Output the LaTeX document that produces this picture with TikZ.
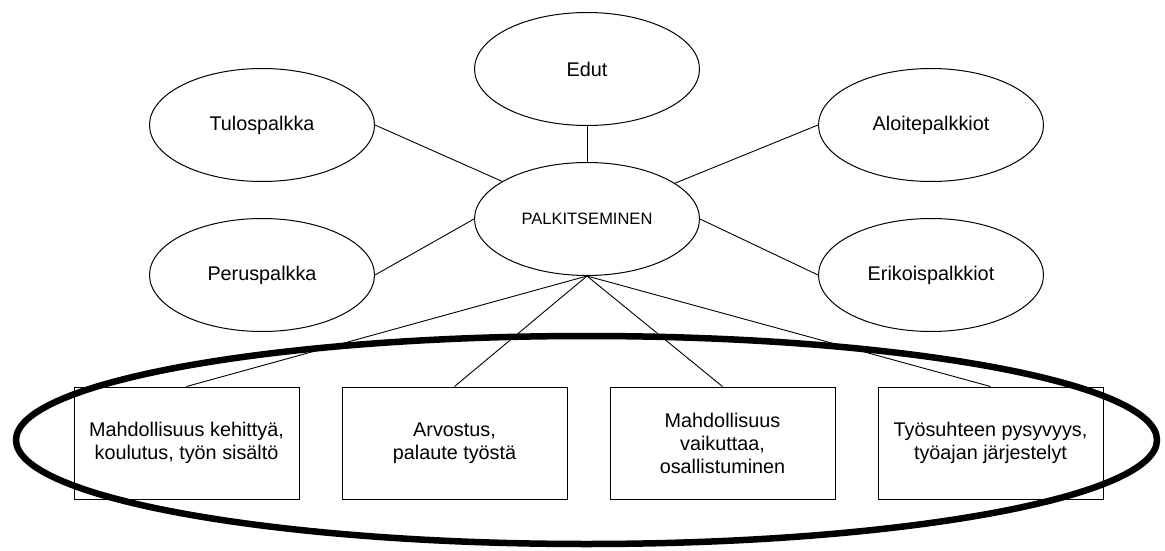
\documentclass[tikz,border=0pt]{standalone}
\usepackage{fontspec}
\setmainfont{Liberation Sans}
\usepackage{tikz}
\usetikzlibrary{positioning, shapes.geometric}

\tikzset{
  oval/.style={draw, ellipse, line width=1pt, minimum width=225pt, minimum height=113pt,
               inner sep=0pt, font=\fontsize{19.8}{23}\selectfont},
  mainoval/.style={oval, font=\fontsize{16.5}{20}\selectfont},
  rewardbox/.style={draw, fill=white, line width=1pt, minimum width=225pt, minimum height=112pt,
                    inner sep=0pt, align=center, font=\fontsize{19.8}{23}\selectfont},
  link/.style={line width=0.9pt}
}

\begin{document}
\begin{tikzpicture}[x=1pt, y=-1pt]
    \useasboundingbox (0,0) rectangle (1165,551);

    % ovals round the centre
    \node[mainoval] (palk) at (587,219) {PALKITSEMINEN};
    \node[oval] (edut) at (587,69) {Edut};
    \node[oval] (tulos) at (262,125) {Tulospalkka};
    \node[oval] (perus) at (262,275) {Peruspalkka};
    \node[oval] (aloite) at (931,125) {Aloitepalkkiot};
    \node[oval] (erikois) at (931,275) {Erikoispalkkiot};

    % non-material rewards
    \node[rewardbox] (kehitys) at (186.5,443) {Mahdollisuus kehittyä,\\koulutus, työn sisältö};
    \node[rewardbox, right=42pt of kehitys] (arvostus) {Arvostus,\\palaute työstä};
    \node[rewardbox, right=42pt of arvostus] (vaikutus) {Mahdollisuus\\vaikuttaa,\\osallistuminen};
    \node[rewardbox, right=42pt of vaikutus] (pysyvyys) {Työsuhteen pysyvyys,\\työajan järjestelyt};

    \draw[link] (edut) -- (palk);
    \draw[link] (tulos.east) -- (palk);
    \draw[link] (aloite.west) -- (palk);
    \draw[link] (perus.east) -- (palk.west);
    \draw[link] (erikois.west) -- (palk.east);
    \foreach \b in {kehitys, arvostus, vaikutus, pysyvyys}
      \draw[link] (palk.south) -- (\b.north);

    % thick ring round the boxes
    \node[draw, ellipse, line width=6.5pt, minimum width=1141pt, minimum height=208pt,
          inner sep=0pt] (ring) at (586.5,440) {};
\end{tikzpicture}
\end{document}
